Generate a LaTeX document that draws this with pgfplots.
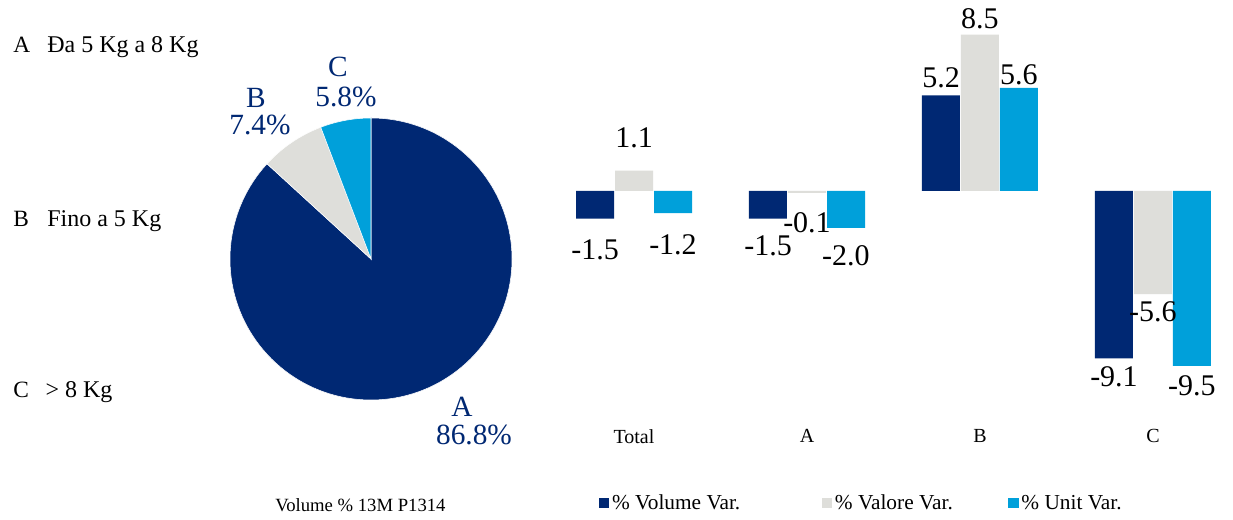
\documentclass[border=0pt]{standalone}
\usepackage{pgfplots}
\usepackage{pgfplotstable}
\pgfplotsset{compat=1.18}
\usepackage{fontspec}
\setmainfont{Liberation Serif}
\definecolor{navy}{RGB}{0,40,115}
\definecolor{lgrey}{RGB}{222,222,218}
\definecolor{lblue}{RGB}{0,160,218}
\newcommand{\datafont}{\fontsize{22.5}{25}\selectfont}
\newcommand{\piefont}{\fontsize{22}{26}\selectfont}
\newcommand{\leftfont}{\fontsize{18}{21}\selectfont}
\newcommand{\legfont}{\fontsize{16}{19}\selectfont}

% pie shares (%)
\pgfplotstableread{
label value
A 86.8
B 7.4
C 5.8
}\piedata
% bar series: x = category (0 Total, 1 A, 2 B, 3 C), y = value, ly = label position
\pgfplotstableread{
x y ly
0 -1.5 -3.18
1 -1.5 -2.99
2 5.2 6.14
3 -9.1 -10.11
}\volumevar
\pgfplotstableread{
x y ly
0 1.1 2.91
1 -0.1 -1.74
2 8.5 9.35
3 -5.6 -6.55
}\valorevar
\pgfplotstableread{
x y ly
0 -1.2 -2.93
1 -2.0 -3.53
2 5.6 6.30
3 -9.5 -10.6
}\unitvar

\begin{document}
\begin{tikzpicture}
\path[use as bounding box, fill=white] (0pt,0pt) rectangle (924.75pt,390pt);

% ---------- pie ----------
\pgfplotstablegetelem{0}{value}\of\piedata \let\pA\pgfplotsretval
\pgfplotstablegetelem{1}{value}\of\piedata \let\pB\pgfplotsretval
\pgfplotstablegetelem{2}{value}\of\piedata \let\pC\pgfplotsretval
\pgfmathsetmacro{\aA}{90-3.6*\pA}
\pgfmathsetmacro{\aB}{\aA-3.6*\pB}
\pgfmathsetmacro{\aC}{\aB-3.6*\pC}
\begin{axis}[at={(278.25pt,195.75pt)}, anchor=center, scale only axis,
  width=211.5pt, height=211.5pt, xmin=-1, xmax=1, ymin=-1, ymax=1,
  hide axis, clip=false]
  \fill[navy, draw=white, line width=0.4pt] (axis cs:0,0) -- ++(90:105.75pt) arc[start angle=90, end angle=\aA, radius=105.75pt] -- cycle;
  \fill[lgrey, draw=white, line width=0.4pt] (axis cs:0,0) -- ++(\aA:105.75pt) arc[start angle=\aA, end angle=\aB, radius=105.75pt] -- cycle;
  \fill[lblue, draw=white, line width=0.4pt] (axis cs:0,0) -- ++(\aB:105.75pt) arc[start angle=\aB, end angle=\aC, radius=105.75pt] -- cycle;
\end{axis}

% pie labels
\begin{scope}[every node/.style={inner sep=0pt, anchor=base, text=navy, font=\piefont}]
\node at (253.5pt,332.25pt) {C};
\node at (259.5pt,309.75pt) {5.8\%};
\node at (192pt,309pt) {B};
\node at (195pt,288.75pt) {7.4\%};
\node at (346.5pt,77.25pt) {A};
\node at (355.5pt,56.25pt) {86.8\%};
\end{scope}

% left category legend
\begin{scope}[every node/.style={inner sep=0pt, anchor=base west}]
\node[font=\fontsize{17.5}{20}\selectfont] at (9.75pt,350.25pt) {A};
\node[font=\leftfont] at (35.25pt,350.25pt) {Đa 5 Kg a 8 Kg};
\node[font=\fontsize{17.5}{20}\selectfont] at (9.75pt,219.75pt) {B};
\node[font=\leftfont] at (35.25pt,219.75pt) {Fino a 5 Kg};
\node[font=\fontsize{17.5}{20}\selectfont] at (9.75pt,91.5pt) {C};
\node[font=\leftfont] at (34pt,91.5pt) {> 8 Kg};
\node[font=\fontsize{14}{17}\selectfont] at (206.25pt,6pt) {Volume \% 13M P1314};
\end{scope}

% ---------- bars ----------
\begin{axis}[at={(410.625pt,71.5pt)}, anchor=south west, scale only axis,
  width=512.5pt, height=313.3pt,
  xmin=-0.5, xmax=3.45, ymin=-12.7, ymax=10,
  clip=false,
  axis line style={draw=none}, major tick length=0pt,
  ytick=\empty,
  xtick={0,1,2,3}, xticklabels={Total,A,B,C},
  xticklabel style={font=\fontsize{15}{18}\selectfont},
  legend columns=3,
  legend style={at={(axis description cs:0.0746,-0.1875)}, anchor=west, draw=none, fill=none,
    font=\legfont, /tikz/column 2/.style={column sep=59pt},
    /tikz/column 4/.style={column sep=39.5pt},
    inner sep=0pt, cells={anchor=west}},
  ]
  \addplot[ybar, bar width=28.5pt, bar shift=-29.25pt, fill=navy, draw=none,
    legend image code/.code={\fill[navy] (0pt,-4pt) rectangle (8pt,4pt);}]
    table[x=x, y=y]{\volumevar};
  \addlegendentry{\% Volume Var.}
  \addplot[ybar, bar width=28.5pt, bar shift=0pt, fill=lgrey, draw=none,
    legend image code/.code={\fill[lgrey] (0pt,-4pt) rectangle (8pt,4pt);}]
    table[x=x, y=y]{\valorevar};
  \addlegendentry{\% Valore Var.}
  \addplot[ybar, bar width=28.5pt, bar shift=29.25pt, fill=lblue, draw=none,
    legend image code/.code={\fill[lblue] (0pt,-4pt) rectangle (8pt,4pt);}]
    table[x=x, y=y]{\unitvar};
  \addlegendentry{\% Unit Var.}

  % value labels
  \addplot[draw=none, mark=none, forget plot, nodes near coords, point meta=explicit symbolic,
    every node near coord/.append style={anchor=center, font=\datafont, inner sep=0pt}]
    table[x expr=\thisrow{x}-0.2254, y=ly, meta=y]{\volumevar};
  \addplot[draw=none, mark=none, forget plot, nodes near coords, point meta=explicit symbolic,
    every node near coord/.append style={anchor=center, font=\datafont, inner sep=0pt}]
    table[x=x, y=ly, meta=y]{\valorevar};
  \addplot[draw=none, mark=none, forget plot, nodes near coords, point meta=explicit symbolic,
    every node near coord/.append style={anchor=center, font=\datafont, inner sep=0pt}]
    table[x expr=\thisrow{x}+0.2254, y=ly, meta=y]{\unitvar};
\end{axis}
\end{tikzpicture}
\end{document}
